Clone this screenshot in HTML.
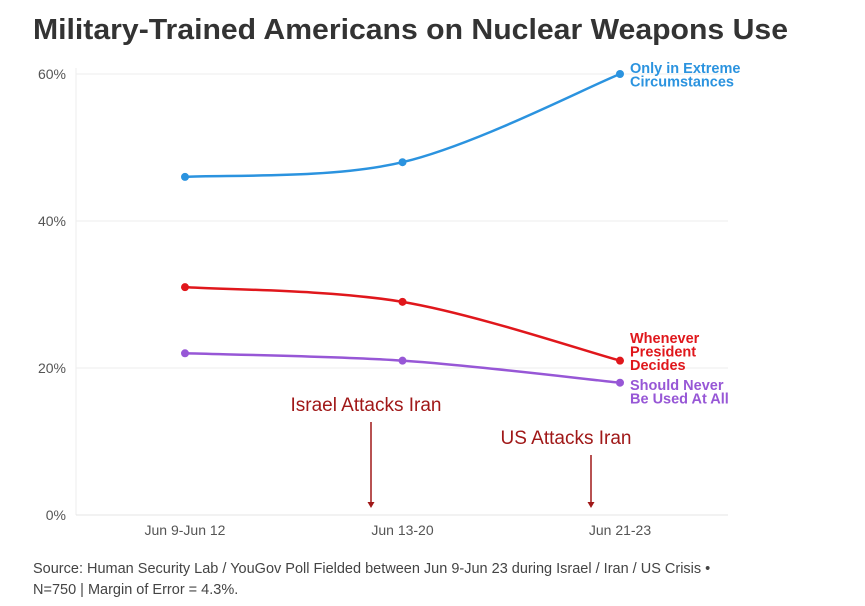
<!DOCTYPE html>
<html><head><meta charset="utf-8"><style>
body{margin:0;background:#fff;width:865px;height:601px;overflow:hidden;font-family:"Liberation Sans",sans-serif}
</style></head><body>
<svg width="865" height="601" id="c">
<text x="33" y="39" font-size="29" font-weight="bold" fill="#333" textLength="755" lengthAdjust="spacingAndGlyphs">Military-Trained Americans on Nuclear Weapons Use</text>
<text x="33" y="573" font-size="14.5" fill="#444">Source: Human Security Lab / YouGov Poll Fielded between Jun 9-Jun 23 during Israel / Iran / US Crisis •</text>
<text x="33" y="594" font-size="14.5" fill="#444">N=750 | Margin of Error = 4.3%.</text>
</svg>
<script>
const categories=["Jun 9-Jun 12","Jun 13-20","Jun 21-23"];
const yTicks=[0,20,40,60];
const extreme=[46,48,60];
const president=[31,29,21];
const never=[22,21,18];
const svg=document.getElementById('c');const NS='http://www.w3.org/2000/svg';
const X=i=>185+i*217.5, Y=v=>515-v*(441/60);
function el(t,a,txt){const e=document.createElementNS(NS,t);for(const k in a)e.setAttribute(k,a[k]);if(txt!==undefined)e.textContent=txt;svg.appendChild(e);return e;}
const ax=el('line',{x1:76,x2:76,y1:68,y2:515,stroke:'#eee'});


yTicks.forEach(t=>{const g=el('line',{x1:76,x2:728,y1:Y(t),y2:Y(t),stroke:t==0?'#e4e4e4':'#eee'});


const l=el('text',{x:66,y:Y(t)+5,'font-size':14,fill:'#555','text-anchor':'end'},t+'%');

});
categories.forEach((c,i)=>{const l=el('text',{x:X(i),y:535,'font-size':14,fill:'#555','text-anchor':'middle'},c);

});
function path(vals){const p=vals.map((v,i)=>[X(i),Y(v)]);let d='M'+p[0];for(let i=0;i<p.length-1;i++){const p0=p[i-1]||p[i],p1=p[i],p2=p[i+1],p3=p[i+2]||p2;const c1=[p1[0]+(p2[0]-p0[0])/6,p1[1]+(p2[1]-p0[1])/6],c2=[p2[0]-(p3[0]-p1[0])/6,p2[1]-(p3[1]-p1[1])/6];d+=' C'+c1+' '+c2+' '+p2;}return d;}
[[extreme,'#2b93df','extreme'],[president,'#e0171c','president'],[never,'#9757d6','never']].forEach(([vals,col,n])=>{
const pa=el('path',{d:path(vals),fill:'none',stroke:col,'stroke-width':2.5});


vals.forEach((v,i)=>{const c=el('circle',{cx:X(i),cy:Y(v),r:4,fill:col});

});});
function lab(x,y,lines,col,n){lines.forEach((s,i)=>{const t=el('text',{x:x,y:y+i*13.5,'font-size':14.5,'font-weight':'bold',fill:col},s);

});}
lab(630,73,['Only in Extreme','Circumstances'],'#2b93df','extreme');
lab(630,343,['Whenever','President','Decides'],'#e0171c','president');
lab(630,390,['Should Never','Be Used At All'],'#9757d6','never');
function ann(tx,x,ty,txt,y1,y2,n){const t=el('text',{x:tx,y:ty,'font-size':19,fill:'#a01818','text-anchor':'middle'},txt);


const l=el('line',{x1:x,x2:x,y1:y1,y2:y2-5,stroke:'#a01818','stroke-width':1.5});


const h=el('path',{d:`M${x-3.5},${y2-6} L${x+3.5},${y2-6} L${x},${y2} Z`,fill:'#a01818'});

}
ann(366,371,411,'Israel Attacks Iran',422,508,'israel');
ann(566,591,444,'US Attacks Iran',455,508,'us');
</script>
</body></html>
